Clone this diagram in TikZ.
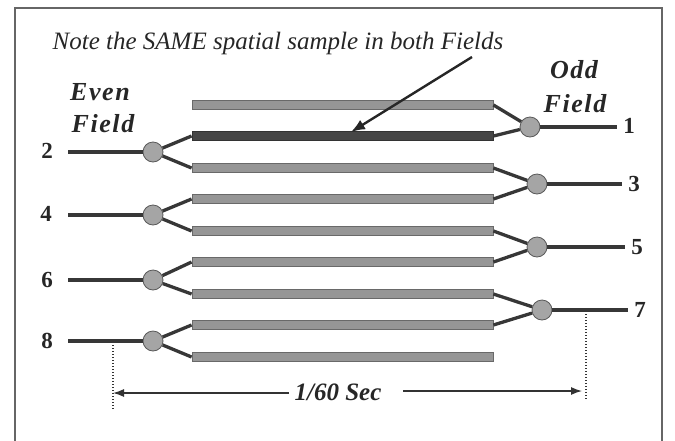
\documentclass[tikz,border=0pt]{standalone}
\usepackage{fontspec}
\setmainfont{Liberation Serif}
\usetikzlibrary{arrows.meta}
\definecolor{linec}{RGB}{55,55,55}
\definecolor{barc}{RGB}{150,150,150}
\definecolor{barb}{RGB}{105,105,105}
\definecolor{darkbar}{RGB}{70,70,70}
\definecolor{dotc}{RGB}{165,165,165}
\begin{document}
\begin{tikzpicture}[x=1pt,y=-1pt,
  bar/.style={draw=barb,fill=barc,line width=0.8pt,minimum width=301pt,minimum height=9.5pt,inner sep=0pt,rectangle},
  dbar/.style={bar,fill=darkbar,draw=black!80},
  dot/.style={circle,draw=gray!70!black,fill=dotc,minimum size=20pt,inner sep=0pt,line width=0.8pt},
  wire/.style={draw=linec,line width=3.3pt},
  num/.style={font=\fontsize{23}{23}\selectfont\bfseries,inner sep=0pt,text=black!85},
  lab/.style={font=\fontsize{26}{26}\selectfont\bfseries\itshape\addfontfeature{LetterSpace=6},inner sep=0pt,anchor=base,text=black!85},
  vdot/.style={draw=black!80,dash pattern=on 1.3pt off 1.7pt,line width=1.3pt},
  dim/.style={draw=black!80,line width=1.3pt,-{Latex[length=11pt,width=8pt]}}]
\useasboundingbox (0,0) rectangle (675,440);
\draw[line width=1.2pt,draw=black!60] (15,445) -- (15,8) -- (662,8) -- (662,445);
% bars
\foreach \i/\y in {1/105,3/168,4/199,5/231,6/262,7/294,8/325,9/357}
  \node[bar] (b\i) at (342.5,\y) {};
\node[dbar] (b2) at (342.5,136) {};
% even nodes
\node[dot] (e2) at (153,152) {};
\node[dot] (e4) at (153,215) {};
\node[dot] (e6) at (153,280) {};
\node[dot] (e8) at (153,341) {};
% odd nodes
\node[dot] (o1) at (530,127) {};
\node[dot] (o3) at (537,184) {};
\node[dot] (o5) at (537,247) {};
\node[dot] (o7) at (542,310) {};
% line ends
\coordinate (l2) at (68,152);
\coordinate (l4) at (68,215);
\coordinate (l6) at (68,280);
\coordinate (l8) at (68,341);
\coordinate (r1) at (617,127);
\coordinate (r3) at (622,184);
\coordinate (r5) at (625,247);
\coordinate (r7) at (628,310);
\foreach \n in {2,4,6,8} \draw[wire] (l\n) -- (e\n);
\foreach \n in {1,3,5,7} \draw[wire] (o\n) -- (r\n);
% fan connections
\draw[wire] (b2.west) -- (e2); \draw[wire] (b3.west) -- (e2);
\draw[wire] (b4.west) -- (e4); \draw[wire] (b5.west) -- (e4);
\draw[wire] (b6.west) -- (e6); \draw[wire] (b7.west) -- (e6);
\draw[wire] (b8.west) -- (e8); \draw[wire] (b9.west) -- (e8);
\draw[wire] (b1.east) -- (o1); \draw[wire] (b2.east) -- (o1);
\draw[wire] (b3.east) -- (o3); \draw[wire] (b4.east) -- (o3);
\draw[wire] (b5.east) -- (o5); \draw[wire] (b6.east) -- (o5);
\draw[wire] (b7.east) -- (o7); \draw[wire] (b8.east) -- (o7);
% numbers
\node[num] (n2) at (47,151) {2};
\node[num] (n4) at (46,214) {4};
\node[num] (n6) at (47,280) {6};
\node[num] (n8) at (47,341) {8};
\node[num] (n1) at (629,126) {1};
\node[num] (n3) at (634,184) {3};
\node[num] (n5) at (637,247) {5};
\node[num] (n7) at (640,310) {7};
% labels
\node[lab] (even) at (100,100) {Even};
\node[lab] (evenf) at (103,132) {Field};
\node[lab] (odd) at (574,78) {Odd};
\node[lab] (oddf) at (575,112) {Field};
\node[font=\fontsize{25}{25}\selectfont\itshape,inner sep=0pt,text=black!85] (note) at (278,43) {Note the SAME spatial sample in both Fields};
\coordinate (at) at (472,57);
\coordinate (ah) at (351,132);
\draw[draw=black!85,line width=2.4pt,-{Latex[length=14pt,width=11pt]}] (at) -- (ah);
% timing
\coordinate (d1a) at (113,345); \coordinate (d1b) at (113,409);
\coordinate (d2a) at (586,314); \coordinate (d2b) at (586,399);
\draw[vdot] (d1a) -- (d1b);
\draw[vdot] (d2a) -- (d2b);
\node[font=\fontsize{25}{25}\selectfont\bfseries\itshape,inner sep=0pt,text=black!85] (sec) at (338,392) {1/60 Sec};
\coordinate (tl) at (113,393); \coordinate (tr) at (582,391);
\coordinate (sl) at (289,393); \coordinate (sr) at (403,391);
\draw[dim] (sl) -- (tl);
\draw[dim] (sr) -- (tr);
\end{tikzpicture}
\end{document}
